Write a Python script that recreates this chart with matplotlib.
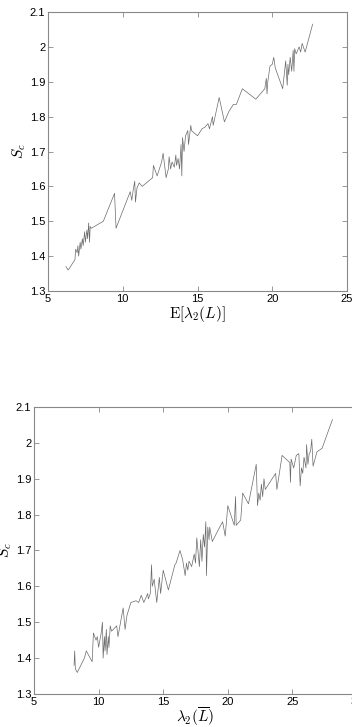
import numpy as np
import matplotlib
matplotlib.use("Agg")
import matplotlib.pyplot as plt

plt.rcParams['font.family'] = ['Liberation Sans', 'DejaVu Sans']
plt.rcParams['mathtext.fontset'] = 'cm'

# top panel: S_c against E[lambda_2(L)]
x_top = [6.2, 6.35, 6.8, 6.85, 6.95, 7.0, 7.05, 7.15, 7.2, 7.3, 7.35, 7.45, 7.5, 7.6, 7.65,
         7.72, 7.78, 7.82, 7.9, 8.7, 9.45, 9.55, 10.5, 10.6, 10.7, 10.8, 10.85, 10.95, 11.1,
         11.3, 12.0, 12.05, 12.3, 12.6, 12.7, 12.9, 13.05, 13.1, 13.2, 13.3, 13.45, 13.55,
         13.6, 13.7, 13.8, 13.9, 13.95, 14.0, 14.1, 14.2, 14.35, 14.4, 14.55, 14.6, 15.0,
         15.3, 15.5, 15.7, 15.8, 16.0, 16.05, 16.45, 16.8, 17.1, 17.4, 17.6, 18.0, 18.9,
         19.5, 19.6, 19.65, 19.7, 19.85, 20.0, 20.1, 20.2, 20.7, 20.8, 20.9, 21.0, 21.05,
         21.1, 21.2, 21.3, 21.4, 21.45, 21.5, 21.6, 21.8, 21.9, 22.0, 22.2, 22.7]
s_top = [1.37, 1.36, 1.39, 1.42, 1.41, 1.43, 1.40, 1.44, 1.42, 1.45, 1.43, 1.47, 1.44, 1.475,
         1.45, 1.495, 1.44, 1.485, 1.48, 1.50, 1.58, 1.48, 1.585, 1.56, 1.59, 1.615, 1.555,
         1.595, 1.61, 1.60, 1.625, 1.66, 1.63, 1.67, 1.695, 1.625, 1.65, 1.685, 1.65, 1.67,
         1.655, 1.69, 1.66, 1.68, 1.65, 1.72, 1.63, 1.74, 1.70, 1.745, 1.76, 1.72, 1.775,
         1.76, 1.745, 1.765, 1.77, 1.78, 1.765, 1.80, 1.775, 1.855, 1.785, 1.815, 1.835,
         1.835, 1.88, 1.85, 1.88, 1.91, 1.865, 1.90, 1.945, 1.95, 1.97, 1.94, 1.88, 1.92,
         1.96, 1.89, 1.95, 1.92, 1.97, 1.93, 1.99, 1.93, 1.995, 1.98, 2.0, 1.985, 2.01,
         1.985, 2.065]

# bottom panel: S_c against lambda_2(L bar)
x_bot = [8.1, 8.15, 8.2, 8.35, 8.9, 9.05, 9.5, 9.6, 9.8, 9.9, 10.0, 10.2, 10.3, 10.35, 10.45,
         10.5, 10.6, 10.65, 10.75, 10.8, 10.9, 11.0, 11.4, 11.5, 11.9, 12.05, 12.2, 12.5,
         12.9, 13.1, 13.3, 13.5, 13.8, 13.85, 14.0, 14.1, 14.15, 14.3, 14.5, 14.7, 14.8,
         15.0, 15.4, 15.9, 16.0, 16.3, 16.5, 16.7, 16.8, 16.9, 17.0, 17.2, 17.4, 17.5, 17.6,
         17.8, 17.9, 18.0, 18.1, 18.2, 18.3, 18.35, 18.45, 18.55, 18.6, 18.8, 19.3, 19.6,
         19.8, 20.0, 20.5, 20.6, 20.65, 21.0, 21.15, 21.6, 22.2, 22.3, 22.4, 22.5, 22.6,
         22.7, 22.8, 22.9, 23.7, 23.8, 24.2, 24.8, 24.85, 24.9, 25.1, 25.3, 25.5, 25.6,
         25.7, 25.8, 25.9, 26.05, 26.1, 26.2, 26.3, 26.4, 26.5, 26.6, 26.9, 27.3, 28.1]
s_bot = [1.38, 1.42, 1.37, 1.36, 1.40, 1.42, 1.39, 1.47, 1.45, 1.46, 1.43, 1.47, 1.50, 1.40,
         1.46, 1.42, 1.48, 1.41, 1.46, 1.43, 1.49, 1.475, 1.49, 1.46, 1.54, 1.48, 1.52,
         1.555, 1.56, 1.555, 1.575, 1.555, 1.58, 1.565, 1.58, 1.66, 1.60, 1.62, 1.555,
         1.625, 1.58, 1.645, 1.59, 1.66, 1.665, 1.70, 1.675, 1.63, 1.665, 1.645, 1.67,
         1.655, 1.69, 1.665, 1.735, 1.655, 1.73, 1.67, 1.745, 1.71, 1.78, 1.63, 1.765,
         1.73, 1.765, 1.725, 1.76, 1.78, 1.74, 1.825, 1.77, 1.85, 1.77, 1.785, 1.86, 1.83,
         1.94, 1.825, 1.86, 1.84, 1.885, 1.85, 1.90, 1.87, 1.915, 1.87, 1.965, 1.945, 1.89,
         1.955, 1.93, 1.965, 1.97, 1.88, 1.93, 1.915, 1.96, 1.93, 1.995, 1.94, 1.97, 1.975,
         2.01, 1.935, 1.975, 1.985, 2.065]

x_ticks = [5, 10, 15, 20, 25, 30]
y_ticks = [1.3, 1.4, 1.5, 1.6, 1.7, 1.8, 1.9, 2.0, 2.1]
y_ticklabels = ['1.3', '1.4', '1.5', '1.6', '1.7', '1.8', '1.9', '2', '2.1']

fig = plt.figure(figsize=(3.52, 7.27), dpi=100)
ax1 = fig.add_axes([0.1364, 0.5997, 0.8494, 0.3838])
ax2 = fig.add_axes([0.0966, 0.0454, 0.9176, 0.3948])

def style(ax, xmax):
    ax.set_xlim(5, xmax)
    ax.set_ylim(1.3, 2.1)
    ax.set_xticks([t for t in x_ticks if t <= xmax])
    ax.set_yticks(y_ticks)
    ax.set_yticklabels(y_ticklabels)
    ax.tick_params(direction='in', length=3.5, width=0.6, color='#888888',
                   top=True, right=True, labelsize=8, pad=2, labelcolor='black')
    for sp in ax.spines.values():
        sp.set_color('#888888')
        sp.set_linewidth(0.8)
    ax.set_ylabel(r'$S_c$', fontsize=11, labelpad=1)

ax1.plot(x_top, s_top, color='#6a6a6a', lw=0.5)
style(ax1, 25)
ax1.set_xlabel(r'$\mathrm{E}[\lambda_2(L)]$', fontsize=11, labelpad=0)

ax2.plot(x_bot, s_bot, color='#6a6a6a', lw=0.5)
style(ax2, 30)
ax2.set_xlabel(r'$\lambda_2(\overline{L})$', fontsize=11, labelpad=-1)

fig.savefig('out.png', dpi=100)
